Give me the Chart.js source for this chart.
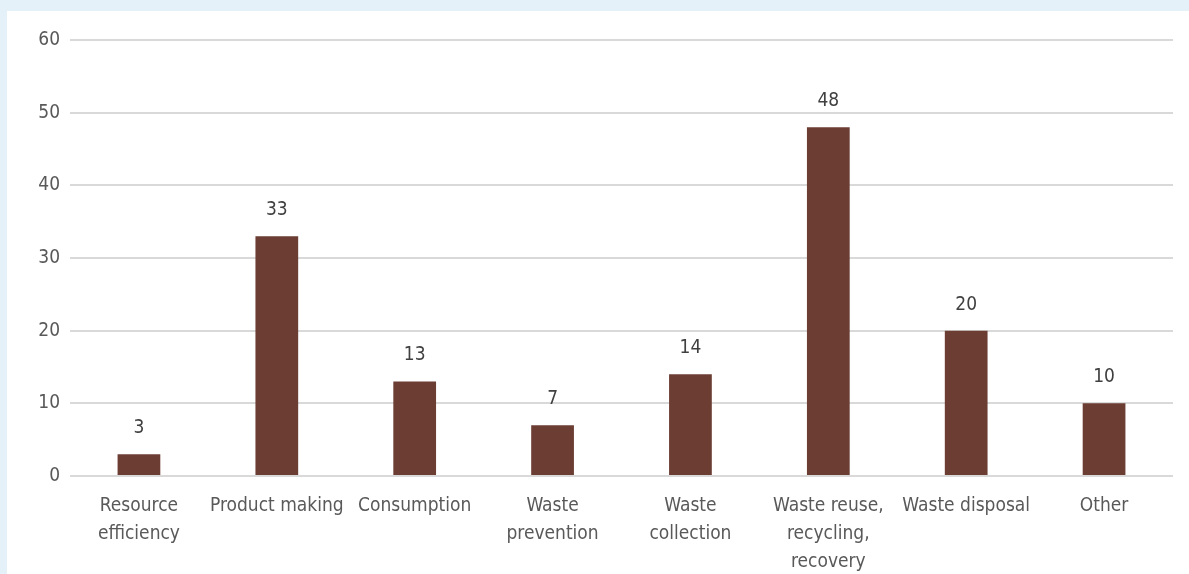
<!DOCTYPE html>
<html>
<head>
<meta charset="utf-8">
<script src="https://cdn.jsdelivr.net/npm/chart.js@4"></script>
<style>
  html, body { margin: 0; padding: 0; background: #e4f1f8; }
  #panel { position: absolute; left: 7px; top: 11px; width: 1182px; height: 563px; background: #ffffff; }
  #wrap { position: absolute; left: 0; top: 0; width: 1189px; height: 574px; }
</style>
</head>
<body>
<div id="panel"></div>
<div id="wrap"><canvas id="chart"></canvas></div>
<script>
var categories = [
    ["Resource", "efficiency"],
    "Product making",
    "Consumption",
    ["Waste", "prevention"],
    ["Waste", "collection"],
    ["Waste reuse,", "recycling,", "recovery"],
    "Waste disposal",
    "Other"
];
var counts = [3, 33, 13, 7, 14, 48, 20, 10];
var yTicks = [0, 10, 20, 30, 40, 50, 60];

var fontFamily = "'Liberation Sans Narrow', 'DejaVu Sans Condensed', 'Roboto', sans-serif";

// draws the value above each bar
var valueLabels = {
    id: 'valueLabels',
    afterDatasetsDraw: function(chart) {
        var ctx = chart.ctx;
        var meta = chart.getDatasetMeta(0);
        ctx.save();
        ctx.font = '19px ' + fontFamily;
        ctx.fillStyle = '#404040';
        ctx.textAlign = 'center';
        ctx.textBaseline = 'middle';
        meta.data.forEach(function(bar, i) {
            ctx.fillText(chart.data.datasets[0].data[i], bar.x, bar.y - 26);
        });
        ctx.restore();
    }
};

var ctx = document.getElementById("chart");
var myChart = new Chart(ctx, {
    type: 'bar',
    data: {
        labels: categories,
        datasets: [{
            data: counts,
            backgroundColor: '#6b3d33',
            categoryPercentage: 1,
            barPercentage: 0.31
        }]
    },
    options: {
        responsive: true,
        maintainAspectRatio: false,
        animation: false,
        layout: {
            padding: { left: 0, right: 16, top: 40, bottom: 0 }
        },
        plugins: {
            legend: { display: false },
            tooltip: { enabled: false }
        },
        scales: {
            x: {
                grid: { display: false },
                border: { display: false },
                afterFit: function(axis) { axis.height = 98; },
                ticks: {
                    color: '#595959',
                    font: { family: fontFamily, size: 19, lineHeight: 1.47 },
                    maxRotation: 0,
                    autoSkip: false,
                    padding: 8
                }
            },
            y: {
                min: 0,
                max: 60,
                afterBuildTicks: function(axis) {
                    axis.ticks = yTicks.map(function(v) { return { value: v }; });
                },
                afterFit: function(axis) { axis.width = 70; },
                grid: { color: '#d9d9d9', lineWidth: 2, drawTicks: false },
                border: { display: false },
                ticks: {
                    color: '#595959',
                    font: { family: fontFamily, size: 19 },
                    padding: 10
                }
            }
        }
    },
    plugins: [valueLabels]
});
</script>
</body>
</html>
